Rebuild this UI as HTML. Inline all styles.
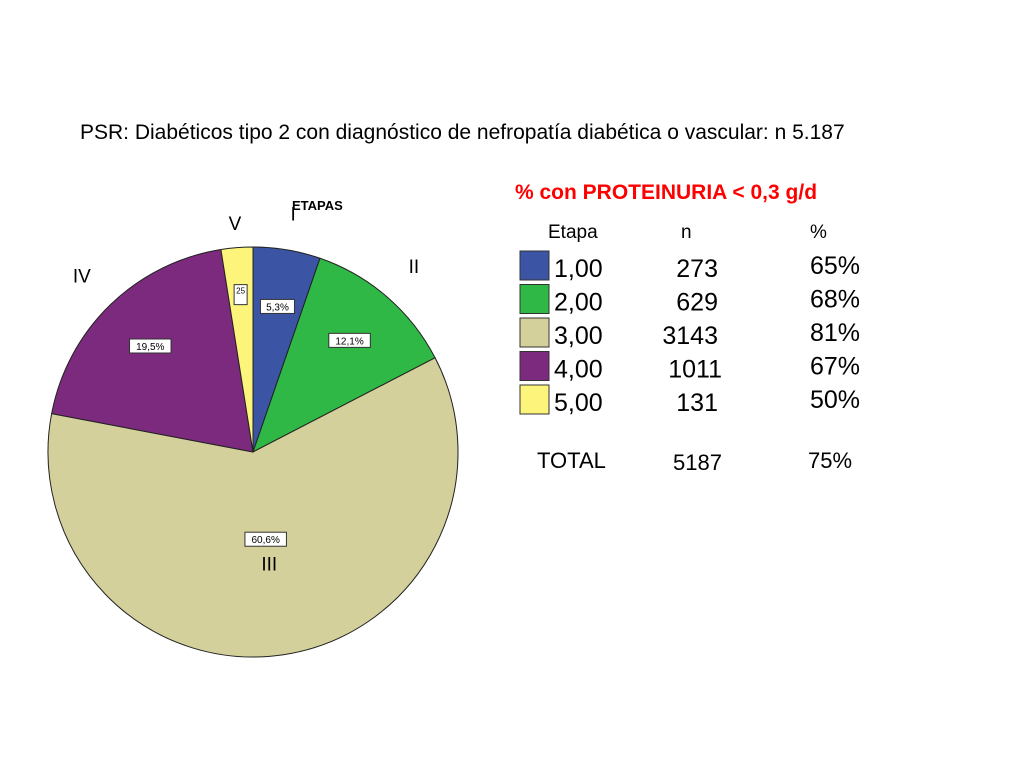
<!DOCTYPE html>
<html><head><meta charset="utf-8"><style>
body{margin:0;background:#fff;font-family:"Liberation Sans",sans-serif}
svg text{font-family:"Liberation Sans",sans-serif}
</style></head><body>
<svg width="1024" height="768">
<text x="80" y="139" font-size="21" fill="#000">PSR: Diabéticos tipo 2 con diagnóstico de nefropatía diabética o vascular: n 5.187</text>
<text x="292" y="210" font-size="13" font-weight="bold">ETAPAS</text>
<g id="pie"></g>
<g id="legend"></g>
<text x="515" y="199" font-size="21" font-weight="bold" fill="#f00">% con PROTEINURIA &lt; 0,3 g/d</text>
<text x="548" y="238" font-size="19">Etapa</text>
<text x="681" y="238" font-size="19">n</text>
<text x="810" y="238" font-size="19">%</text>
<text x="537" y="468" font-size="22">TOTAL</text>
<text x="673" y="470" font-size="22">5187</text>
<text x="808" y="468" font-size="22">75%</text>
</svg>
<script>
const stages=["1,00","2,00","3,00","4,00","5,00"];
const shares=[5.3,12.1,60.6,19.5,2.5];
const shareLabels=["5,3%","12,1%","60,6%","19,5%","2,5%"];
const romans=["I","II","III","IV","V"];
const counts=["273","629","3143","1011","131"];
const pcts=["65%","68%","81%","67%","50%"];
const colors=["#3b54a4","#2fb845","#d4d09b","#7b2a7e","#fdf57b"];
const NS="http://www.w3.org/2000/svg";
const cx=253,cy=452,R=205;
const pie=document.getElementById('pie');
const total=shares.reduce((a,b)=>a+b,0);
function pt(a,r){return [cx+r*Math.sin(a),cy-r*Math.cos(a)];}
let cum=0;
const romanPos=[[0,1.18],[0,1.2],[0,0.55],[0,1.2],[0,1.12]];
shares.forEach((v,i)=>{
  const a0=cum/total*2*Math.PI; cum+=v; const a1=cum/total*2*Math.PI;
  const p0=pt(a0,R),p1=pt(a1,R);
  const p=document.createElementNS(NS,'path');
  p.setAttribute('d',`M${cx},${cy}L${p0[0]},${p0[1]}A${R},${R} 0 ${a1-a0>Math.PI?1:0} 1 ${p1[0]},${p1[1]}Z`);
  p.setAttribute('fill',colors[i]);p.setAttribute('stroke','#222');p.setAttribute('stroke-width','1');
  
  
  pie.appendChild(p);
  const am=(a0+a1)/2;
  const small=v<4;
  const lp=pt(am,small?0.77*R:(v>50?0.43*R:0.72*R));
  const w=small?13:(shareLabels[i].length*7.5+4),h=small?20:14;
  const r=document.createElementNS(NS,'rect');
  r.setAttribute('x',lp[0]-w/2);r.setAttribute('y',lp[1]-h/2);r.setAttribute('width',w);r.setAttribute('height',h);
  r.setAttribute('fill','#fff');r.setAttribute('stroke','#333');
  
  
  pie.appendChild(r);
  const t=document.createElementNS(NS,'text');
  t.setAttribute('x',lp[0]);t.setAttribute('y',lp[1]+(small?-1:4));t.setAttribute('font-size',small?'8':'10');t.setAttribute('text-anchor','middle');
  t.textContent=small?shareLabels[i].replace('%','').replace(',',''):shareLabels[i];
  
  
  pie.appendChild(t);
  const rp=pt(am,R*romanPos[i][1]);
  const rt=document.createElementNS(NS,'text');
  rt.setAttribute('x',rp[0]);rt.setAttribute('y',rp[1]+7);rt.setAttribute('font-size','19');rt.setAttribute('text-anchor','middle');
  rt.textContent=romans[i];
  
  
  pie.appendChild(rt);
});
const lg=document.getElementById('legend');
stages.forEach((s,i)=>{
  const y=251+i*33.5;
  const r=document.createElementNS(NS,'rect');
  r.setAttribute('x',520);r.setAttribute('y',y);r.setAttribute('width',29);r.setAttribute('height',29);
  r.setAttribute('fill',colors[i]);r.setAttribute('stroke','#333');
  
  
  lg.appendChild(r);
  const items=[[s,554,'start'],[counts[i],718,'end'],[pcts[i],860,'end']];
  items.forEach((it,j)=>{
    const t=document.createElementNS(NS,'text');
    t.setAttribute('x',it[1]+(j==1&&i==3?4:0));t.setAttribute('y',y+26-(j==2?3:0));t.setAttribute('font-size','25');t.setAttribute('text-anchor',it[2]);
    t.textContent=it[0];
    
    
    lg.appendChild(t);
  });
});
</script>
</body></html>
